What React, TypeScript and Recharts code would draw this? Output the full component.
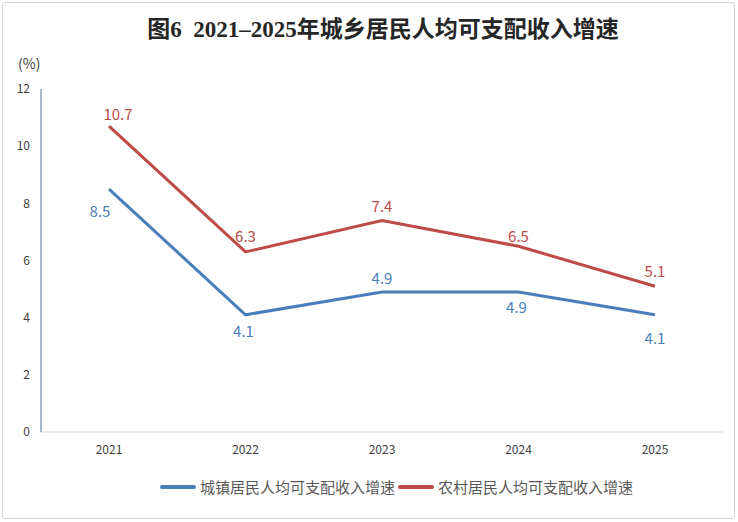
import { LineChart, Line, XAxis, YAxis, LabelList } from "recharts";

const years = ["2021", "2022", "2023", "2024", "2025"];
const urban = [8.5, 4.1, 4.9, 4.9, 4.1];
const rural = [10.7, 6.3, 7.4, 6.5, 5.1];
const yTicks = [0, 2, 4, 6, 8, 10, 12];
const urbanName = "城镇居民人均可支配收入增速";
const ruralName = "农村居民人均可支配收入增速";

// label offsets from each point, [dx, dy]
const urbanLabelShift = [[-9, 21], [-2, 16], [0, -14], [-2, 15], [0, 23]];
const ruralLabelShift = [[9, -13], [0, -16], [0, -15], [0, -11], [0, -16]];

const BLUE = "#4a7ebb";
const RED = "#be4b48";
const FONT = "'Noto Sans CJK SC', 'Noto Sans', sans-serif";

const data = years.map((y, i) => ({ year: y, urban: urban[i], rural: rural[i] }));

function makeLabel(shift: number[][], color: string) {
  return (props: any) => {
    const { x, y, value, index } = props;
    const [dx, dy] = shift[index];
    return (
      <text
        x={x + dx}
        y={y + dy}
        textAnchor="middle"
        dominantBaseline="central"
        fill={color}
        fontSize={15}
        fontFamily={FONT}
      >
        {value}
      </text>
    );
  };
}

export default function App() {
  return (
    <div style={{ position: "absolute", left: 0, top: 0, width: 738, height: 522, background: "#fff" }}>
      <div
        style={{
          position: "absolute",
          left: 2,
          top: 2,
          width: 731,
          height: 515,
          border: "1px solid #d4d4d4",
          borderRadius: 3,
        }}
      />
      <div
        style={{
          position: "absolute",
          left: 0,
          top: 12,
          width: 766,
          textAlign: "center",
          fontFamily: "'Liberation Serif', 'Noto Sans CJK SC', serif",
          fontWeight: "bold",
          fontSize: 23,
          color: "#262626",
          lineHeight: "36px",
        }}
      >
        图6&nbsp;&nbsp;2021–2025年城乡居民人均可支配收入增速
      </div>
      <div
        style={{
          position: "absolute",
          left: 18,
          top: 53,
          fontFamily: FONT,
          fontSize: 14,
          color: "#404040",
        }}
      >
        (%)
      </div>
      <div style={{ position: "absolute", left: 0, top: 0 }}>
        <LineChart width={738} height={522} data={data} margin={{ top: 89, right: 15, bottom: 60, left: 11 }}>
          <XAxis
            dataKey="year"
            padding={{ left: 68, right: 68 }}
            axisLine={{ stroke: "#d9d9d9" }}
            tickLine={false}
            tickMargin={7}
            height={30}
            tick={{ fontSize: 12, fill: "#404040", fontFamily: FONT }}
          />
          <YAxis
            domain={[0, 12]}
            ticks={yTicks}
            width={30}
            axisLine={{ stroke: "#4f6fa8" }}
            tickLine={false}
            tickMargin={5}
            tick={{ fontSize: 12, fill: "#404040", fontFamily: FONT }}
          />
          <Line
            dataKey="urban"
            name={urbanName}
            stroke={BLUE}
            strokeWidth={3}
            dot={false}
            isAnimationActive={false}
          >
            <LabelList dataKey="urban" content={makeLabel(urbanLabelShift, BLUE)} />
          </Line>
          <Line
            dataKey="rural"
            name={ruralName}
            stroke={RED}
            strokeWidth={3}
            dot={false}
            isAnimationActive={false}
          >
            <LabelList dataKey="rural" content={makeLabel(ruralLabelShift, RED)} />
          </Line>
        </LineChart>
      </div>
      <div
        style={{
          position: "absolute",
          left: 160,
          top: 476,
          display: "flex",
          alignItems: "center",
          fontFamily: FONT,
          fontSize: 15,
          color: "#595959",
          whiteSpace: "nowrap",
        }}
      >
        {[
          { name: urbanName, color: BLUE },
          { name: ruralName, color: RED },
        ].map((s) => (
          <div key={s.name} style={{ display: "flex", alignItems: "center", marginRight: 3 }}>
            <span
              style={{
                display: "inline-block",
                width: 36,
                height: 4,
                borderRadius: 2,
                background: s.color,
                marginRight: 4,
              }}
            />
            <span>{s.name}</span>
          </div>
        ))}
      </div>
    </div>
  );
}
